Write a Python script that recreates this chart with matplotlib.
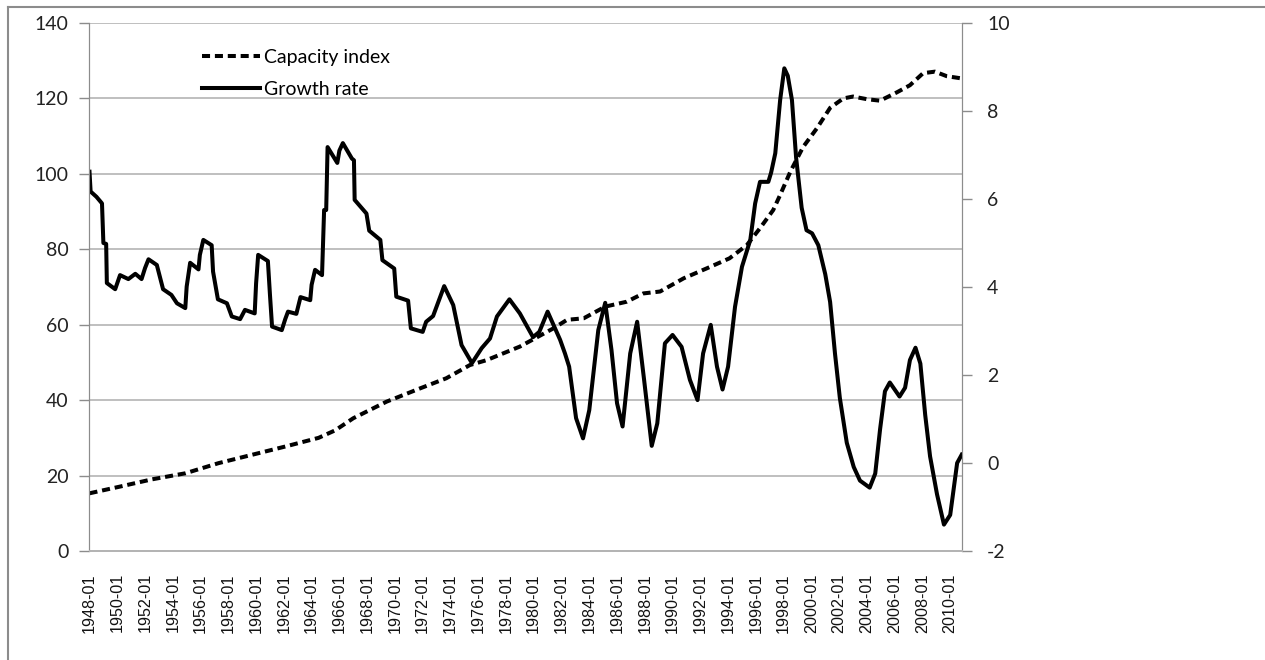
import numpy as np
import matplotlib.pyplot as plt
from matplotlib.lines import Line2D
from matplotlib.ticker import FuncFormatter

# capacity index (left axis), decimal years
cap_t = [1948.0, 1950.1, 1952.5, 1954.9, 1957.3, 1959.7, 1962.1, 1964.5, 1965.7,
         1967.0, 1969.4, 1971.8, 1973.7, 1975.4, 1976.6, 1979.0, 1981.4, 1982.4,
         1983.6, 1985.15, 1986.7, 1987.9, 1989.1, 1990.8, 1992.5, 1994.1, 1995.35,
         1996.3, 1997.25, 1997.75, 1998.5, 1999.4, 2000.4, 2001.35, 2002.3, 2003.0,
         2004.0, 2004.95, 2006.15, 2007.1, 2008.05, 2008.9, 2009.75, 2010.83]
cap_v = [15.3, 17.0, 19.0, 20.6, 23.3, 25.5, 27.7, 30.0, 32.0,
         35.2, 39.6, 43.1, 45.8, 49.3, 50.6, 54.2, 59.0, 61.3,
         61.7, 64.8, 66.1, 68.3, 68.8, 72.3, 75.0, 77.6, 81.1,
         85.6, 90.4, 94.4, 100.7, 107.1, 112.1, 117.5, 120.0, 120.5,
         119.8, 119.4, 121.6, 123.5, 126.7, 127.1, 125.9, 125.3]

# growth rate (right axis)
gr_t = [1948.0, 1948.08, 1948.5, 1948.9, 1949.0, 1949.2, 1949.25, 1949.85, 1950.2,
        1950.8, 1951.3, 1951.75, 1952.0, 1952.25, 1952.85, 1953.3, 1953.9, 1954.3,
        1954.9, 1955.0, 1955.25, 1955.85, 1955.95, 1956.2, 1956.8, 1956.9, 1957.25,
        1957.9, 1958.25, 1958.85, 1959.2, 1959.9, 1960.0, 1960.15, 1960.85, 1961.0,
        1961.15, 1961.85, 1962.1, 1962.3, 1962.9, 1963.2, 1963.9, 1964.0, 1964.25,
        1964.75, 1964.9, 1965.05, 1965.15, 1965.85, 1966.0, 1966.25, 1966.9, 1967.05,
        1967.1, 1967.95, 1968.15, 1968.95, 1969.1, 1969.95, 1970.1, 1970.95, 1971.15,
        1972.0, 1972.25, 1972.75, 1973.55, 1974.2, 1974.8, 1975.55, 1976.25, 1976.85,
        1977.35, 1978.25, 1979.0, 1979.95, 1980.4, 1981.0, 1981.9, 1982.25, 1982.55,
        1983.05, 1983.55, 1984.0, 1984.65, 1985.15, 1985.6, 1986.0, 1986.4, 1986.95,
        1987.45, 1987.95, 1988.5, 1988.9, 1989.45, 1990.0, 1990.65, 1991.25, 1991.8,
        1992.2, 1992.75, 1993.2, 1993.6, 1994.0, 1994.5, 1995.0, 1995.6, 1995.95,
        1996.3, 1996.9, 1997.1, 1997.4, 1997.75, 1998.05, 1998.3, 1998.6, 1998.9,
        1999.3, 1999.65, 2000.05, 2000.5, 2001.0, 2001.35, 2001.7, 2002.05, 2002.55,
        2003.05, 2003.5, 2004.2, 2004.6, 2004.95, 2005.3, 2005.65, 2006.35, 2006.75,
        2007.1, 2007.5, 2007.85, 2008.2, 2008.55, 2009.05, 2009.55, 2010.0, 2010.5,
        2010.83]
gr_v = [6.62, 6.17, 6.05, 5.9, 5.0, 4.98, 4.09, 3.95, 4.27,
        4.18, 4.3, 4.18, 4.43, 4.63, 4.5, 3.95, 3.82, 3.63,
        3.52, 4.01, 4.55, 4.4, 4.73, 5.07, 4.95, 4.35, 3.72,
        3.63, 3.33, 3.27, 3.48, 3.4, 4.08, 4.73, 4.59, 3.82,
        3.1, 3.02, 3.27, 3.44, 3.39, 3.77, 3.7, 4.05, 4.39,
        4.27, 5.75, 5.75, 7.18, 6.82, 7.1, 7.27, 6.92, 6.88,
        5.98, 5.67, 5.28, 5.07, 4.61, 4.42, 3.78, 3.69, 3.06,
        2.98, 3.21, 3.34, 4.02, 3.59, 2.68, 2.27, 2.61, 2.83,
        3.33, 3.72, 3.4, 2.86, 2.98, 3.44, 2.8, 2.49, 2.19,
        1.02, 0.56, 1.2, 3.02, 3.64, 2.57, 1.36, 0.83, 2.49,
        3.21, 1.89, 0.39, 0.9, 2.72, 2.91, 2.64, 1.89, 1.43,
        2.49, 3.14, 2.19, 1.67, 2.19, 3.55, 4.46, 5.07, 5.9,
        6.39, 6.39, 6.6, 7.04, 8.25, 8.97, 8.8, 8.25, 6.94,
        5.8, 5.29, 5.22, 4.95, 4.29, 3.66, 2.49, 1.48, 0.46,
        -0.09, -0.40, -0.56, -0.24, 0.77, 1.63, 1.83, 1.51, 1.71,
        2.34, 2.62, 2.26, 1.09, 0.15, -0.71, -1.40, -1.18, 0.0,
        0.19]

tick_years = list(range(1948, 2011, 2))
tick_labels = [f"{y}-01" for y in tick_years]

W, H = 1265, 660
fig = plt.figure(figsize=(W / 100, H / 100), dpi=100)
ax = fig.add_axes([89.5 / W, 109 / H, 872.5 / W, 528 / H])
ax2 = ax.twinx()

grid_c = '#b4b4b4'
axis_c = '#8c8c8c'

l1, = ax.plot(cap_t, cap_v, color='black', lw=2.9, dashes=(2.0, 1.2),
              label='Capacity index')
l2, = ax2.plot(gr_t, gr_v, color='black', lw=2.9, solid_joinstyle='round',
               label='Growth rate')

ax.set_xlim(1948.0, 2010.85)
ax.set_ylim(0, 140)
ax.set_yticks(range(0, 141, 20))
ax2.set_ylim(-2, 10)
ax2.set_yticks(range(-2, 11, 2))
ax2.yaxis.set_major_formatter(FuncFormatter(lambda v, p: f"{int(v)}".replace('\u2212', '-')))

ax.set_xticks(tick_years)
ax.set_xticklabels(tick_labels, rotation=90, fontsize=11.6,
                   family='Liberation Sans', color='#111111')
ax.tick_params(axis='x', length=0, pad=16)

ax.yaxis.grid(True, color=grid_c, lw=1.2)
ax.set_axisbelow(True)
ax.tick_params(axis='y', length=7, width=1, color=axis_c, pad=8,
               labelsize=14, labelcolor='#222222')
ax2.tick_params(axis='y', length=7, width=1, color=axis_c, pad=11,
                labelsize=14, labelcolor='#222222')
for lab in ax.get_yticklabels() + ax2.get_yticklabels():
    lab.set_family('Lato')

for a in (ax, ax2):
    a.spines['top'].set_visible(False)
    a.spines['left'].set_color(axis_c)
    a.spines['right'].set_color(axis_c)
    a.spines['bottom'].set_color(grid_c)
    a.spines['bottom'].set_linewidth(1.4)
ax2.patch.set_visible(False)

leg = ax2.legend(handles=[l1, l2], loc='upper left', bbox_to_anchor=(0.118, 0.969),
                 frameon=False, prop={'family': 'Lato', 'size': 14},
                 handlelength=2.95, handletextpad=0.25, borderpad=0,
                 labelspacing=0.78)

# chart area border
fig.add_artist(Line2D([8 / W, 8 / W], [0, 1 - 7 / H], color='#8c8c8c', lw=1.5,
                      transform=fig.transFigure))
fig.add_artist(Line2D([8 / W, 1], [1 - 7 / H, 1 - 7 / H], color='#8c8c8c', lw=1.5,
                      transform=fig.transFigure))

fig.savefig('out.png', dpi=100)
